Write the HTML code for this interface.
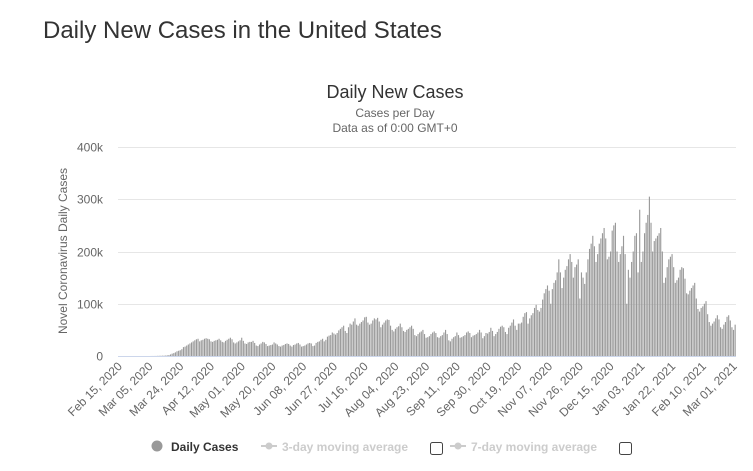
<!DOCTYPE html>
<html><head><meta charset="utf-8"><style>
html,body{margin:0;padding:0;background:#fff;width:753px;height:471px;overflow:hidden;font-family:"Liberation Sans",Arial,sans-serif}
</style></head><body>
<svg id="c" width="753" height="471" xmlns="http://www.w3.org/2000/svg">
<text x="43" y="38" font-size="24" fill="#333">Daily New Cases in the United States</text>
<text x="395" y="98" font-size="18" fill="#333" text-anchor="middle">Daily New Cases</text>
<text x="395" y="117" font-size="12" fill="#666" text-anchor="middle">Cases per Day</text>
<text x="395" y="132" font-size="12" fill="#666" text-anchor="middle">Data as of 0:00 GMT+0</text>
<text transform="translate(67,251) rotate(-90)" font-size="12" fill="#666" text-anchor="middle">Novel Coronavirus Daily Cases</text>
<g id="grid"></g><g id="bars"></g><g id="xl"></g>
<g>
<g><circle cx="157" cy="446" r="5.5" fill="#999"/><text x="171" y="451" font-size="12" font-weight="bold" fill="#333">Daily Cases</text></g>
<g><line x1="261" y1="446" x2="277" y2="446" stroke="#ccc" stroke-width="2"/><circle cx="269" cy="446" r="3.5" fill="#ccc"/><text x="282" y="451" font-size="12" font-weight="bold" fill="#ccc">3-day moving average</text></g>
<rect x="430.5" y="442.5" width="12" height="12" rx="2" fill="#fff" stroke="#444"/>
<g><line x1="450" y1="446" x2="466" y2="446" stroke="#ccc" stroke-width="2"/><circle cx="458" cy="446" r="3.5" fill="#ccc"/><text x="471" y="451" font-size="12" font-weight="bold" fill="#ccc">7-day moving average</text></g>
<rect x="619.5" y="442.5" width="12" height="12" rx="2" fill="#fff" stroke="#444"/>
</g>
</svg>
<script>
const yTicks=[0,100000,200000,300000,400000];
const yTickLabels=["0","100k","200k","300k","400k"];
const xTickLabels=["Feb 15, 2020","Mar 05, 2020","Mar 24, 2020","Apr 12, 2020","May 01, 2020","May 20, 2020","Jun 08, 2020","Jun 27, 2020","Jul 16, 2020","Aug 04, 2020","Aug 23, 2020","Sep 11, 2020","Sep 30, 2020","Oct 19, 2020","Nov 07, 2020","Nov 26, 2020","Dec 15, 2020","Jan 03, 2021","Jan 22, 2021","Feb 10, 2021","Mar 01, 2021"];
const xTickIndex=[0,19,38,57,76,95,114,133,152,171,190,209,228,247,266,285,304,323,342,361,380];
const dailyCasesK=[
0,0,0,0,0,0,0, 0,0,0,0,0,0,0, 0,0,0,0,0,0,0.1, 0.1,0.1,0.2,0.3,0.4,0.5,0.6,
0.7,0.9,1.2,1.8,3,4.5,5.5, 7,9,10,11,13,17,18, 20,22,24,26,28,30,32,
33,28,30,31,33,34,33, 32,28,27,29,30,31,33, 30,27,26,29,31,33,35, 32,26,24,26,28,30,35,
29,24,23,26,27,27,29, 25,20,19,22,24,27,26, 23,19,20,21,22,26,24, 22,19,18,20,21,23,24,
23,20,18,21,22,24,25, 22,18,19,20,22,24,25, 24,19,20,25,27,28,31, 33,28,31,37,39,40,45,
43,41,44,49,52,55,58, 48,44,55,62,60,66,72, 60,58,62,65,68,74,75, 64,60,62,68,72,70,73,
66,55,60,64,68,70,69, 58,50,47,52,55,57,62, 55,48,46,50,52,55,58, 52,40,38,42,45,47,50,
42,35,36,38,42,45,47, 44,36,35,38,40,45,50, 42,30,28,33,36,38,45, 40,35,36,38,40,45,47,
44,36,39,40,42,45,50, 45,34,38,44,43,46,54, 48,38,42,46,52,56,58, 55,46,42,54,58,64,70,
58,50,62,62,64,75,82, 84,62,72,78,82,92,98, 88,85,92,108,120,128,135, 125,100,128,140,145,160,185,
160,130,150,165,172,185,195, 180,150,170,175,185,110,160, 150,138,160,185,205,215,230,
210,180,195,215,225,235,245, 225,185,190,200,240,250,255, 200,180,195,210,230,195,100,
165,150,180,200,230,235,160, 280,180,200,235,255,270,305, 255,200,220,225,230,235,245,
200,140,150,170,185,190,195, 170,140,145,150,165,170,168, 148,120,118,125,130,135,140,
110,90,85,92,95,100,105, 80,65,58,62,66,72,78, 70,55,52,60,65,75,78, 68,55,50,60];
const NS="http://www.w3.org/2000/svg";
const X0=118,X1=736,Y0=356,Y1=147,MAXY=400000;
const n=dailyCasesK.length, step=(X1-X0)/n;
const xs=i=>X0+i*step;
const ys=v=>Y0-(v/MAXY)*(Y0-Y1);
function mk(t,a,p){const e=document.createElementNS(NS,t);for(const k in a)e.setAttribute(k,a[k]);p.appendChild(e);return e;}
const grid=document.getElementById('grid');
yTicks.forEach((v,i)=>{
 const y=Math.round(ys(v))+0.5;
 if(i>0){const l=mk('line',{x1:X0,x2:X1,y1:y,y2:y,stroke:'#e6e6e6'},grid);
 
 }
 const t=mk('text',{x:103,y:y+4,'font-size':12,fill:'#666','text-anchor':'end'},grid);
 t.textContent=yTickLabels[i];
 
 
});
const bars=document.getElementById('bars');
dailyCasesK.forEach((v,i)=>{
 const y=ys(v*1000);
 const r=mk('rect',{x:(xs(i)+0.2).toFixed(2),y:y.toFixed(2),width:(step*0.7).toFixed(2),height:(Y0-y).toFixed(2),fill:'#999'},bars);
 
 
});
const base=mk('line',{x1:X0,x2:X1,y1:Y0+0.5,y2:Y0+0.5,stroke:'#ccd6eb'},bars);


const xl=document.getElementById('xl');
xTickLabels.forEach((s,i)=>{
 const x=xs(xTickIndex[i])+step/2+4;
 const t=mk('text',{transform:`translate(${x.toFixed(1)},367) rotate(-45)`,'font-size':12,fill:'#666','text-anchor':'end'},xl);
 t.textContent=s;
 
 
});
</script>
</body></html>
